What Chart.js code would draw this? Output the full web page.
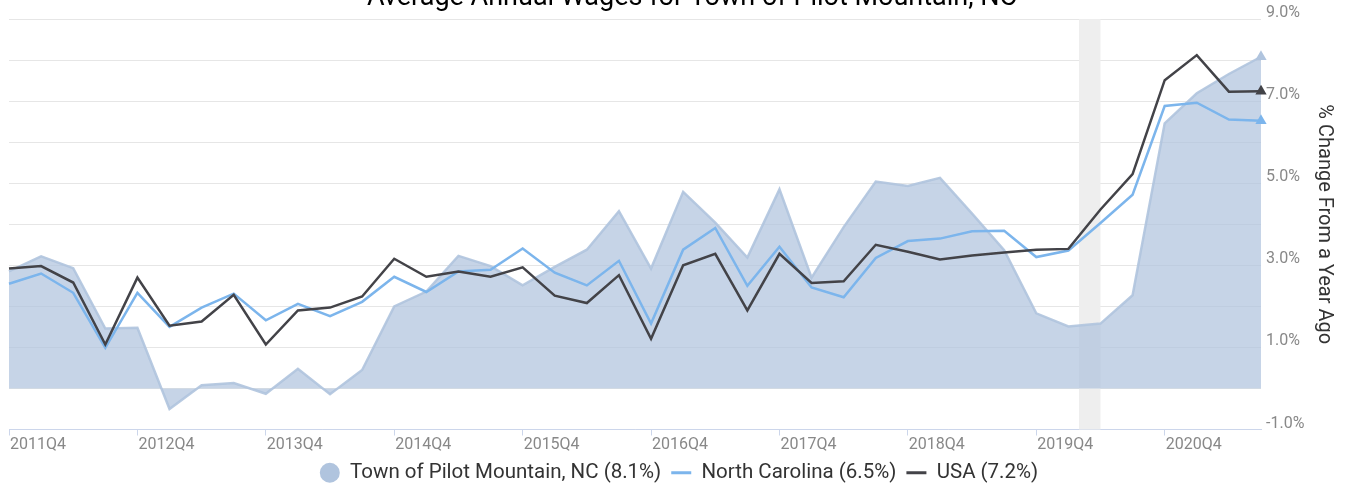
<!DOCTYPE html>
<html>
<head>
<meta charset="utf-8">
<script src="https://cdn.jsdelivr.net/npm/chart.js@4.4.1/dist/chart.umd.min.js"></script>
<style>
  html, body { margin: 0; padding: 0; background: #fff; }
  #wrap { width: 1349px; height: 488px; position: relative; }
</style>
</head>
<body>
<div id="wrap"><canvas id="c"></canvas></div>
<script>
const chartTitle = 'Average Annual Wages for Town of Pilot Mountain, NC';
const yAxisTitle = '% Change From a Year Ago';

const quarters = [
  '2011Q4','2012Q1','2012Q2','2012Q3','2012Q4','2013Q1','2013Q2','2013Q3',
  '2013Q4','2014Q1','2014Q2','2014Q3','2014Q4','2015Q1','2015Q2','2015Q3',
  '2015Q4','2016Q1','2016Q2','2016Q3','2016Q4','2017Q1','2017Q2','2017Q3',
  '2017Q4','2018Q1','2018Q2','2018Q3','2018Q4','2019Q1','2019Q2','2019Q3',
  '2019Q4','2020Q1','2020Q2','2020Q3','2020Q4','2021Q1','2021Q2','2021Q3'
];

const townValues = [
  2.85, 3.22, 2.93, 1.46, 1.48, -0.50, 0.08, 0.13, -0.13, 0.48,
  -0.14, 0.45, 2.00, 2.36, 3.23, 2.98, 2.51, 2.96, 3.38, 4.32,
  2.92, 4.79, 4.04, 3.19, 4.85, 2.70, 3.93, 5.04, 4.93, 5.13,
  4.26, 3.37, 1.83, 1.51, 1.58, 2.27, 6.46, 7.19, 7.66, 8.08
];

const ncValues = [
  2.55, 2.80, 2.33, 0.99, 2.33, 1.50, 1.97, 2.31, 1.66, 2.06,
  1.76, 2.11, 2.72, 2.35, 2.85, 2.89, 3.41, 2.82, 2.51, 3.11,
  1.58, 3.38, 3.91, 2.50, 3.45, 2.46, 2.22, 3.18, 3.59, 3.65,
  3.83, 3.84, 3.20, 3.36, 4.03, 4.72, 6.88, 6.96, 6.55, 6.52
];

const usaValues = [
  2.92, 2.98, 2.58, 1.07, 2.70, 1.53, 1.63, 2.28, 1.07, 1.90,
  1.97, 2.24, 3.16, 2.72, 2.85, 2.72, 2.95, 2.26, 2.08, 2.76,
  1.21, 3.00, 3.28, 1.90, 3.28, 2.57, 2.61, 3.50, 3.33, 3.14,
  3.24, 3.31, 3.38, 3.40, 4.36, 5.22, 7.51, 8.12, 7.23, 7.24
];

const seriesNames = ['Town of Pilot Mountain, NC (8.1%)', 'North Carolina (6.5%)', 'USA (7.2%)'];

// recession band, in quarter-index units (Feb 2020 .. Apr 2020)
const recessionStart = 33.33;
const recessionEnd = 34;

const yMin = -1, yMax = 9;

const FONT = 'Roboto';

const lastPointRadius = (ctx) => ctx.dataIndex === quarters.length - 1 ? 4 : 0;

const recessionPlugin = {
  id: 'recession',
  beforeDatasetsDraw(chart) {
    const { ctx, chartArea, scales } = chart;
    const x1 = scales.x.getPixelForValue(recessionStart);
    const x2 = scales.x.getPixelForValue(recessionEnd);
    ctx.save();
    ctx.fillStyle = '#eeeeee';
    ctx.fillRect(x1, chartArea.top, x2 - x1, chartArea.bottom - chartArea.top);
    ctx.restore();
  }
};

const titlePlugin = {
  id: 'topTitle',
  afterDraw(chart) {
    const { ctx } = chart;
    ctx.save();
    ctx.font = '27px ' + FONT;
    ctx.fillStyle = '#000000';
    ctx.textAlign = 'center';
    ctx.textBaseline = 'alphabetic';
    ctx.fillText(chartTitle, 692, 5);
    ctx.restore();
  }
};

new Chart(document.getElementById('c'), {
  type: 'line',
  data: {
    labels: quarters,
    datasets: [
      {
        label: seriesNames[0],
        data: townValues,
        fill: 'origin',
        backgroundColor: 'rgba(176,196,222,0.72)',
        borderColor: 'rgba(176,196,222,0.9)',
        borderWidth: 2.5,
        pointStyle: 'triangle',
        pointRadius: lastPointRadius,
        pointBackgroundColor: '#b0c4de',
        pointBorderColor: '#b0c4de',
        tension: 0,
        order: 3
      },
      {
        label: seriesNames[1],
        data: ncValues,
        fill: false,
        borderColor: '#7cb5ec',
        backgroundColor: '#7cb5ec',
        borderWidth: 2.5,
        pointStyle: 'triangle',
        pointRadius: lastPointRadius,
        pointBackgroundColor: '#7cb5ec',
        pointBorderColor: '#7cb5ec',
        tension: 0,
        order: 2
      },
      {
        label: seriesNames[2],
        data: usaValues,
        fill: false,
        borderColor: '#434348',
        backgroundColor: '#434348',
        borderWidth: 2.5,
        pointStyle: 'triangle',
        pointRadius: lastPointRadius,
        pointBackgroundColor: '#434348',
        pointBorderColor: '#434348',
        tension: 0,
        order: 1
      }
    ]
  },
  options: {
    responsive: true,
    maintainAspectRatio: false,
    animation: false,
    layout: { padding: { left: 9, top: 19, right: 0, bottom: -5 } },
    plugins: {
      tooltip: { enabled: false },
      title: { display: false },
      legend: {
        display: true,
        position: 'bottom',
        labels: {
          font: { family: FONT, size: 20.5 },
          color: '#333333',
          usePointStyle: true,
          boxHeight: 14,
          pointStyleWidth: 20,
          padding: 10,
          sort: (a, b) => a.datasetIndex - b.datasetIndex,
          generateLabels(chart) {
            const items = Chart.defaults.plugins.legend.labels.generateLabels(chart);
            items.forEach(it => {
              const ds = chart.data.datasets[it.datasetIndex];
              if (ds.fill) {
                it.pointStyle = 'circle';
                it.fillStyle = '#b0c4de';
                it.strokeStyle = '#b0c4de';
                it.lineWidth = 0;
              } else {
                it.pointStyle = 'line';
                it.strokeStyle = ds.borderColor;
                it.fillStyle = ds.borderColor;
                it.lineWidth = 3;
              }
            });
            return items;
          }
        }
      }
    },
    scales: {
      x: {
        type: 'category',
        offset: false,
        border: { display: true, color: '#ccd6eb', width: 1 },
        grid: {
          display: true,
          drawOnChartArea: false,
          drawTicks: true,
          tickLength: 6,
          color: (ctx) => (ctx.tick && quarters[ctx.index] && quarters[ctx.index].endsWith('Q4')) ? '#ccd6eb' : 'rgba(0,0,0,0)'
        },
        ticks: {
          autoSkip: false,
          maxRotation: 0,
          minRotation: 0,
          align: 'start',
          labelOffset: 1,
          padding: 0,
          color: '#888888',
          font: { family: FONT, size: 16 },
          callback: (v, i) => quarters[i].endsWith('Q4') ? quarters[i] : ''
        },
        afterFit: (scale) => { scale.height = 23; }
      },
      y: {
        position: 'right',
        min: yMin,
        max: yMax,
        border: { display: false },
        grid: { color: '#e6e6e6', lineWidth: 1, drawTicks: false },
        ticks: {
          stepSize: 1,
          padding: 5,
          labelOffset: -6,
          color: '#888888',
          font: { family: FONT, size: 16 },
          callback: (v) => (Math.round(v) % 2 !== 0) ? v.toFixed(1) + '%' : ''
        },
        title: {
          display: true,
          text: yAxisTitle,
          color: '#333333',
          font: { family: FONT, size: 20 },
          padding: { top: 13, bottom: 0 }
        },
        afterFit: (scale) => { scale.width = 88; }
      }
    }
  },
  plugins: [recessionPlugin, titlePlugin]
});
</script>
</body>
</html>
